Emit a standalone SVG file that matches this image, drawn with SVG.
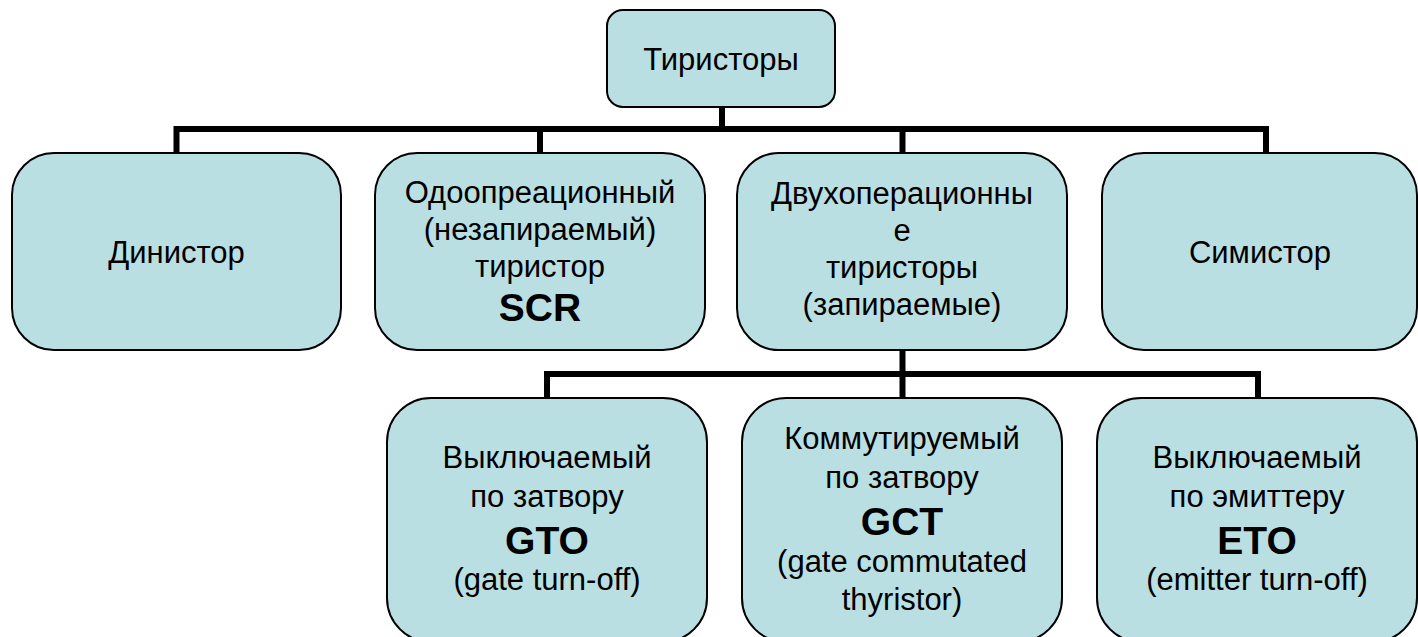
<svg xmlns="http://www.w3.org/2000/svg" width="1418" height="637" viewBox="0 0 1418 637">
<style>
.box{fill:#badfe2;stroke:#000;stroke-width:2}
.t{font-family:"Liberation Sans",Arial,sans-serif;font-size:31px;fill:#000;text-anchor:middle}
.b{font-family:"Liberation Sans",Arial,sans-serif;font-size:39px;font-weight:bold;fill:#000;text-anchor:middle}
.c{fill:none;stroke:#000;stroke-width:6;stroke-linejoin:miter;stroke-linecap:butt}
</style>
<rect width="1418" height="637" fill="#fff"/>
<g id="connectors">
<path class="c" d="M722 107 V129"/>
<path class="c" d="M176.5 153 V129 H1266 V153"/>
<path class="c" d="M540 129 V153"/>
<path class="c" d="M902.5 129 V153"/>
<path class="c" d="M902.5 350 V398"/>
<path class="c" d="M547 398 V374 H1258 V398"/>
</g>
<g id="n-root">
<rect class="box" x="607" y="10" width="228" height="97" rx="16"/>
<text class="t" x="721" y="70">Тиристоры</text>
</g>
<g id="n-dinistor">
<rect class="box" x="12" y="153" width="329" height="197" rx="42"/>
<text class="t" x="176.5" y="263">Динистор</text>
</g>
<g id="n-scr">
<rect class="box" x="375" y="153" width="330" height="197" rx="42"/>
<text class="t" x="540" y="203">Одоопреационный</text>
<text class="t" x="540" y="240">(незапираемый)</text>
<text class="t" x="540" y="277">тиристор</text>
<text class="b" x="540" y="321">SCR</text>
</g>
<g id="n-two">
<rect class="box" x="737" y="153" width="330" height="197" rx="42"/>
<text class="t" x="902" y="204">Двухоперационны</text>
<text class="t" x="902" y="241">е</text>
<text class="t" x="902" y="278">тиристоры</text>
<text class="t" x="902" y="315">(запираемые)</text>
</g>
<g id="n-simistor">
<rect class="box" x="1102" y="153" width="315" height="197" rx="42"/>
<text class="t" x="1260" y="263">Симистор</text>
</g>
<g id="n-gto">
<rect class="box" x="387" y="398" width="320" height="244" rx="44"/>
<text class="t" x="547" y="468">Выключаемый</text>
<text class="t" x="547" y="507">по затвору</text>
<text class="b" x="547" y="554">GTO</text>
<text class="t" x="547" y="590">(gate turn-off)</text>
</g>
<g id="n-gct">
<rect class="box" x="742" y="398" width="320" height="244" rx="44"/>
<text class="t" x="902" y="449">Коммутируемый</text>
<text class="t" x="902" y="488">по затвору</text>
<text class="b" x="902" y="535">GCT</text>
<text class="t" x="902" y="572">(gate commutated</text>
<text class="t" x="902" y="610">thyristor)</text>
</g>
<g id="n-eto">
<rect class="box" x="1097" y="398" width="320" height="244" rx="44"/>
<text class="t" x="1257" y="468">Выключаемый</text>
<text class="t" x="1257" y="507">по эмиттеру</text>
<text class="b" x="1257" y="554">ETO</text>
<text class="t" x="1257" y="590">(emitter turn-off)</text>
</g>
</svg>
